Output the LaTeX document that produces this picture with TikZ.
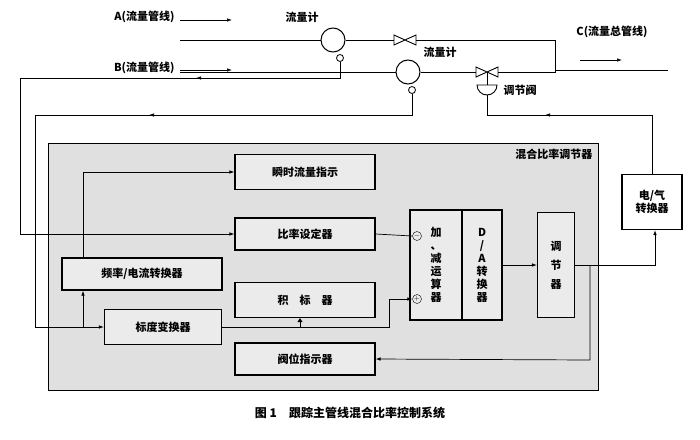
\documentclass[tikz,border=0pt]{standalone}
\usepackage{fontspec}
\setmainfont{Noto Sans CJK SC}
\usetikzlibrary{arrows.meta}
\begin{document}
\begin{tikzpicture}[x=1pt,y=-1pt,font=\fontsize{11}{13}\selectfont\bfseries,
  bx/.style={draw,line width=1.2pt,fill=white!92!black,inner sep=0pt},
  ln/.style={line width=0.7pt},
  ar/.style={ln,-{Latex[length=5pt,width=3.5pt]}}]
\useasboundingbox (0,0) rectangle (700,439);
% gray panel
\node[draw,line width=1pt,fill=black!12,minimum width=550pt,minimum height=247pt,anchor=north west] (panel) at (48,143) {};
\node[anchor=north east] (ptitle) at (596,145) {混合比率调节器};
% boxes
\node[bx,minimum width=140pt,minimum height=35pt] (ss) at (305,172) {瞬时流量指示};
\node[bx,minimum width=140pt,minimum height=32pt] (bl) at (305,234) {比率设定器};
\node[bx,minimum width=160pt,minimum height=32pt] (pl) at (142,274) {频率/电流转换器};
\node[bx,minimum width=140pt,minimum height=35pt] (jb) at (305,300) {积\quad 标\quad 器};
\node[bx,minimum width=117pt,minimum height=35pt] (bd) at (163,327) {标度变换器};
\node[bx,minimum width=140pt,minimum height=32pt] (fw) at (305,359) {阀位指示器};
\node[bx,minimum width=52pt,minimum height=110pt] (js) at (436,265) {};
\node[align=center] (jst) at (436,265) {加\\、\\减\\运\\算\\器};
\node[bx,minimum width=40pt,minimum height=110pt] (da) at (482,265) {};
\node[align=center] (dat) at (482,265) {D\\/\\A\\转\\换\\器};
\node[bx,minimum width=37pt,minimum height=105pt,align=center] (tj) at (556,265) {调\\[6pt]节\\[6pt]器};
\node[draw,line width=1.2pt,fill=white,minimum width=60pt,minimum height=55pt,align=center] (dq) at (652,202) {电/气\\转换器};
\node[draw,circle,inner sep=0pt,minimum size=9pt,font=\fontsize{7}{7}\selectfont] (minus) at (417,236) {$-$};
\node[draw,circle,inner sep=0pt,minimum size=9pt,font=\fontsize{7}{7}\selectfont] (plus) at (417,299) {$+$};
% meters
\node[draw,circle,line width=1pt,minimum size=24pt,inner sep=0pt] (ma) at (333,40) {};
\node[draw,circle,line width=0.8pt,minimum size=7pt,inner sep=0pt] (ma2) at (340,58) {};
\node[draw,circle,line width=1pt,minimum size=24pt,inner sep=0pt] (mb) at (408,72) {};
\node[draw,circle,line width=0.8pt,minimum size=7pt,inner sep=0pt] (mb2) at (412,90) {};
\node (lma) at (302,17) {流量计};
\node (lmb) at (440,52) {流量计};
% valves
\draw[line width=0.9pt,fill=white] (394,35)--(394,45)--(416,35)--(416,45)--cycle;
\draw[line width=0.9pt,fill=white] (476,67)--(476,77)--(498,67)--(498,77)--cycle;
\coordinate (vb) at (487,72);
\draw[line width=0.9pt,fill=white] (477,85) arc[start angle=180,end angle=0,radius=10] -- cycle;
\draw[line width=0.9pt] (vb)--(487,85);
\node[anchor=west] (ltv) at (500,90) {调节阀};
% pipes
\coordinate (a0) at (180,40); \coordinate (b0) at (180,72);
\coordinate (c1) at (555,40); \coordinate (c2) at (555,72);
\coordinate (cj) at (555,70); \coordinate (c3) at (668,70);
\draw[ln] (a0)--(ma.west) (ma.east)--(394,40) (416,40)--(c1)--(c2)--(498,72);
\draw[ln] (b0)--(mb.west) (mb.east)--(476,72);
\draw[ln] (cj)--(c3);
\node[anchor=east] (la) at (178,17) {A(流量管线)};
\draw[ar] (180,20)--(232,20);
\node[anchor=east] (lb) at (178,68) {B(流量管线)};
\draw[ar] (180,70)--(232,70);
\node (lc) at (612,32) {C(流量总管线)};
\draw[ar] (580,60)--(622,60);
% signal A
\draw[ar] (ma2.south)--(340,78)--(20,78)--(20,234)--(bl.west);
\draw[ar] (197,78)--(196,78);
% signal B
\draw[ar] (mb2.south)--(412,115)--(35,115)--(35,327)--(bd.west);
\draw[ar] (150,115)--(149,115);
\draw[ar] (83,327)--(pl.south -| 83,0);
\draw[ar] (83,258)--(83,172)--(ss.west);
\draw[ar] (bd.east)--(389,327)--(389,299)--(plus.west);
\draw[ln,-{Triangle[length=4pt,width=5pt]}] (300,327)--(jb.south -| 300,0);
\draw[ln] (bl.east)--(minus.west);
\draw[ar] (da.east |- 0,265)--(tj.west |- 0,265);
\draw[ar] (tj.east |- 0,265)--(655,265)--(dq.south -| 655,0);
\draw[ar] (590,265)--(590,360)--(fw.east);
\draw[ln] (dq.north)--(652,115)--(487,115)--(487,95);
\draw[ar] (560,115)--(545,115);
% caption
\node[font=\fontsize{12}{14}\selectfont\bfseries] (cap) at (350,413) {图 1\quad 跟踪主管线混合比率控制系统};
\end{tikzpicture}
\end{document}
